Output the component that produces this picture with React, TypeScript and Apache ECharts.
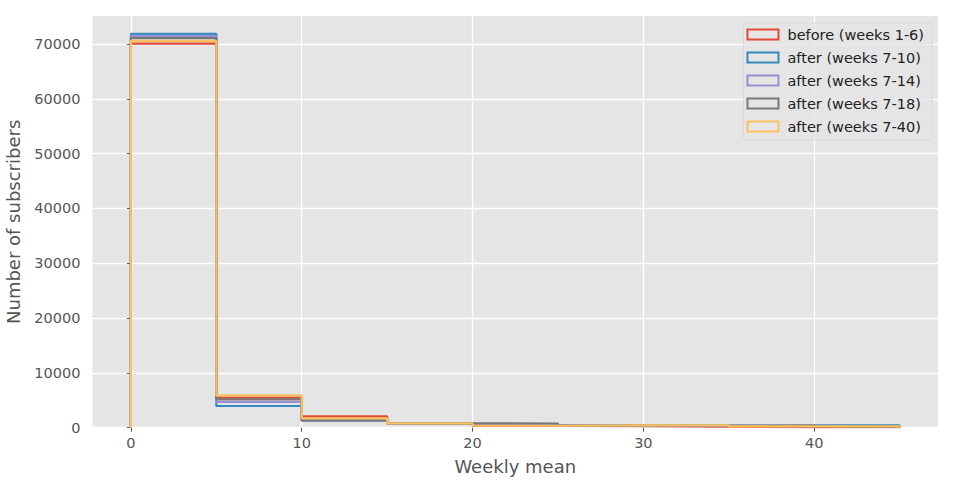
import React, { useEffect, useRef } from 'react';
import * as echarts from 'echarts';

// ---- data ----
const binEdges = [0, 5, 10, 15, 20, 25, 30, 35, 40, 45];
const seriesNames = [
  'before (weeks 1-6)',
  'after (weeks 7-10)',
  'after (weeks 7-14)',
  'after (weeks 7-18)',
  'after (weeks 7-40)',
];
const beforeWeeks1to6 = [70070, 5470, 2080, 820, 330, 280, 180, 120, 80];
const afterWeeks7to10 = [71840, 3960, 1310, 790, 560, 380, 330, 300, 440];
const afterWeeks7to14 = [71470, 4690, 1330, 800, 640, 400, 350, 320, 240];
const afterWeeks7to18 = [71060, 5150, 1350, 800, 770, 400, 380, 440, 230];
const afterWeeks7to40 = [70570, 5880, 1715, 800, 360, 440, 440, 250, 250];
const xTicks = [0, 10, 20, 30, 40];
const yTicks = [0, 10000, 20000, 30000, 40000, 50000, 60000, 70000];

const colors = ['#E24A33', '#348ABD', '#988ED5', '#777777', '#FBC15E'];
const FONT = 'DejaVu Sans';

function stepPoints(counts: number[]): number[][] {
  const pts: number[][] = [[binEdges[0], 0]];
  counts.forEach((c, i) => {
    pts.push([binEdges[i], c]);
    pts.push([binEdges[i + 1], c]);
  });
  pts.push([binEdges[binEdges.length - 1], 0]);
  return pts;
}

export default function App() {
  const ref = useRef<HTMLDivElement>(null);
  useEffect(() => {
    document.body.style.margin = '0';
    const chart = echarts.init(ref.current!, null, { renderer: 'svg' });
    const allCounts = [beforeWeeks1to6, afterWeeks7to10, afterWeeks7to14, afterWeeks7to18, afterWeeks7to40];
    chart.setOption({
      animation: false,
      backgroundColor: '#ffffff',
      grid: {
        left: 92.5,
        top: 16,
        width: 845.5,
        height: 411.7,
        show: true,
        backgroundColor: '#E5E5E5',
        borderWidth: 0,
        containLabel: false,
        outerBoundsMode: 'none',
      },
      xAxis: {
        type: 'value',
        min: -2.25,
        max: 47.25,
        name: 'Weekly mean',
        nameLocation: 'middle',
        nameGap: 30,
        nameTextStyle: { fontFamily: FONT, fontSize: 18, color: '#555555' },
        axisLine: { show: false },
        axisTick: { show: true, customValues: xTicks, length: 4, lineStyle: { color: '#555555', width: 1 } },
        axisLabel: { customValues: xTicks, fontFamily: FONT, fontSize: 14.5, color: '#555555', margin: 8 },
        splitLine: { show: true, lineStyle: { color: '#ffffff', width: 1.3 } },
      },
      yAxis: {
        type: 'value',
        min: 0,
        max: 75100,
        name: 'Number of subscribers',
        nameLocation: 'middle',
        nameRotate: 90,
        nameGap: 70,
        nameTextStyle: { fontFamily: FONT, fontSize: 18, color: '#555555' },
        axisLine: { show: false },
        axisTick: { show: true, customValues: yTicks, length: 4, lineStyle: { color: '#555555', width: 1 } },
        axisLabel: {
          customValues: yTicks,
          formatter: (v: number) => String(v),
          fontFamily: FONT,
          fontSize: 14.5,
          color: '#555555',
          margin: 12,
        },
        splitLine: { show: true, lineStyle: { color: '#ffffff', width: 1.3 } },
      },
      legend: {
        orient: 'vertical',
        right: 24,
        top: 23,
        icon: 'rect',
        itemWidth: 31,
        itemHeight: 10,
        itemGap: 6,
        padding: [3, 8, 5, 3],
        backgroundColor: 'rgba(229,229,229,0.8)',
        borderColor: 'rgba(210,210,210,0.6)',
        borderWidth: 1,
        borderRadius: 3,
        textStyle: { fontFamily: FONT, fontSize: 14.5, color: '#222222', lineHeight: 17, padding: [0, 0, 0, 4] },
        data: seriesNames.map((n, i) => ({
          name: n,
          itemStyle: { color: 'rgba(0,0,0,0)', borderColor: colors[i], borderWidth: 2 },
        })),
      },
      series: seriesNames.map((n, i) => ({
        name: n,
        type: 'line',
        data: stepPoints(allCounts[i]),
        symbol: 'none',
        color: colors[i],
        lineStyle: { color: colors[i], width: 2.2 },
        clip: true,
      })),
    });
    return () => chart.dispose();
  }, []);
  return <div ref={ref} style={{ width: 956, height: 497 }} />;
}
